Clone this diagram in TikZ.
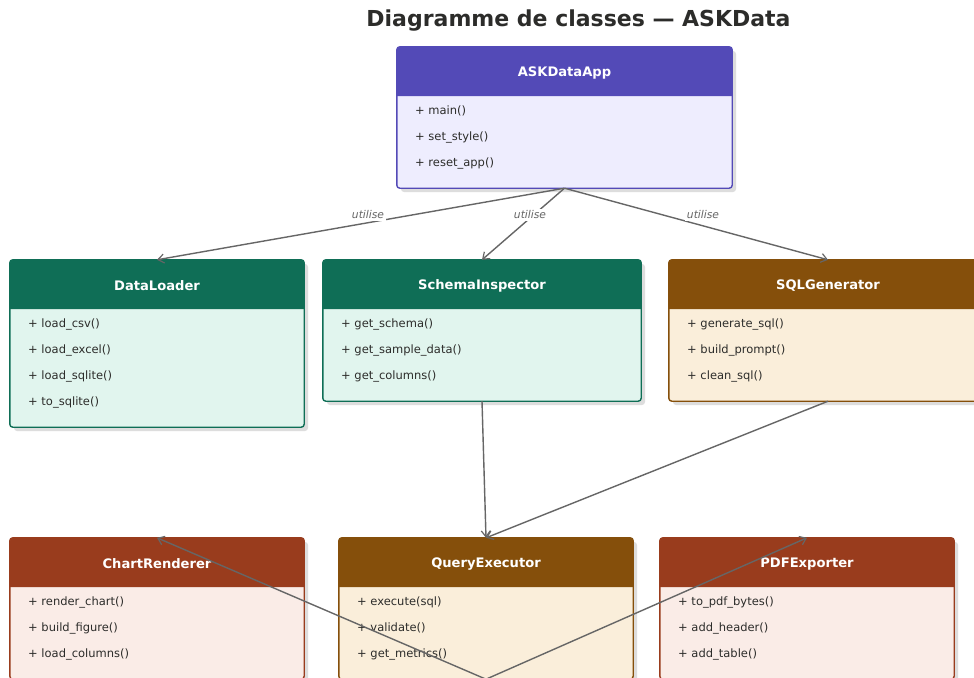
\documentclass[tikz,border=0pt]{standalone}
\usepackage{fontspec}
\setmainfont{DejaVu Sans}
\usetikzlibrary{arrows.meta}
\definecolor{txt}{HTML}{2C2C2A}
\definecolor{arr}{HTML}{666666}
\definecolor{shadowcol}{HTML}{DDDDDD}
\definecolor{pdark}{HTML}{534AB7}\definecolor{plight}{HTML}{EEEDFE}
\definecolor{gdark}{HTML}{0F6E56}\definecolor{glight}{HTML}{E1F5EE}
\definecolor{bdark}{HTML}{854F0B}\definecolor{blight}{HTML}{FAEEDA}
\definecolor{rdark}{HTML}{993C1D}\definecolor{rlight}{HTML}{FAECE7}
\tikzset{
  boxbody/.style={rectangle, inner sep=0pt, rounded corners=3pt},
  classtitle/.style={text=white, font=\fontsize{13.1}{15}\selectfont\bfseries, inner sep=0pt},
  method/.style={text=txt, font=\fontsize{11.5}{13}\selectfont, anchor=west, inner sep=0pt},
  conn/.style={draw=arr, line width=1.4pt, -{Straight Barb[length=6pt,width=9pt,line width=1.2pt]}},
  lbl/.style={fill=white, text=arr, font=\fontsize{10.7}{12}\selectfont\itshape, inner sep=1.5pt},
  maintitle/.style={text=txt, font=\fontsize{22}{24}\selectfont\bfseries, inner sep=0pt}
}
\newcommand{\umlclass}[9]{%
  \pgfmathsetmacro\cx{(#2+#4)/2}%
  \pgfmathsetmacro\cy{(#3+#5)/2}%
  \pgfmathsetmacro\bw{#4-#2}%
  \pgfmathsetmacro\bh{#5-#3}%
  \pgfmathsetmacro\hy{#3+49}%
  \fill[shadowcol, rounded corners=3pt] (#2+4,#3+4) rectangle (#4+4,#5+4);
  \node[boxbody, fill=#7, minimum width=\bw pt, minimum height=\bh pt] (#1) at (\cx,\cy) {};
  \fill[#6] (#2,\hy) [rounded corners=3pt] -- (#2,#3) -- (#4,#3) [sharp corners] -- (#4,\hy) -- cycle;
  \draw[#6, line width=1.4pt, rounded corners=3pt] (#1.north west) rectangle (#1.south east);
  \node[classtitle] (#1-title) at (\cx,#3+26) {#8};
  \foreach \m [count=\i] in {#9} {\node[method] (#1-m\i) at (#2+18,\hy+15+26*\i-26) {\m};}
}
\begin{document}
\begin{tikzpicture}[x=1pt,y=-1pt]
\useasboundingbox (0,0) rectangle (974,677);
\clip (0,0) rectangle (974,677);
\fill[white] (0,0) rectangle (974,677);
\node[maintitle] (title) at (578.5,21) {Diagramme de classes — ASKData};
\umlclass{app}{397}{47}{732}{188}{pdark}{plight}{ASKDataApp}{+ main(),+ set\_style(),+ reset\_app()}
\umlclass{loader}{10}{260}{304}{427}{gdark}{glight}{DataLoader}{+ load\_csv(),+ load\_excel(),+ load\_sqlite(),+ to\_sqlite()}
\umlclass{schema}{323}{260}{641}{401}{gdark}{glight}{SchemaInspector}{+ get\_schema(),+ get\_sample\_data(),+ get\_columns()}
\umlclass{sqlgen}{669}{260}{987}{401}{bdark}{blight}{SQLGenerator}{+ generate\_sql(),+ build\_prompt(),+ clean\_sql()}
\umlclass{chart}{10}{538}{304}{679}{rdark}{rlight}{ChartRenderer}{+ render\_chart(),+ build\_figure(),+ load\_columns()}
\umlclass{query}{339}{538}{633}{679}{bdark}{blight}{QueryExecutor}{+ execute(sql),+ validate(),+ get\_metrics()}
\umlclass{pdf}{660}{538}{954}{679}{rdark}{rlight}{PDFExporter}{+ to\_pdf\_bytes(),+ add\_header(),+ add\_table()}
\draw[conn] (app.south) -- (loader.north) node[lbl] (l1) at (368,215) {utilise};
\draw[conn] (app.south) -- (schema.north) node[lbl] (l2) at (530,215) {utilise};
\draw[conn] (app.south) -- (sqlgen.north) node[lbl] (l3) at (703,215) {utilise};
\draw[conn] (schema.south) -- (query.north);
\draw[conn] (sqlgen.south) -- (query.north);
\draw[conn] (query.south) -- (chart.north);
\draw[conn] (query.south) -- (pdf.north);
\end{tikzpicture}
\end{document}
